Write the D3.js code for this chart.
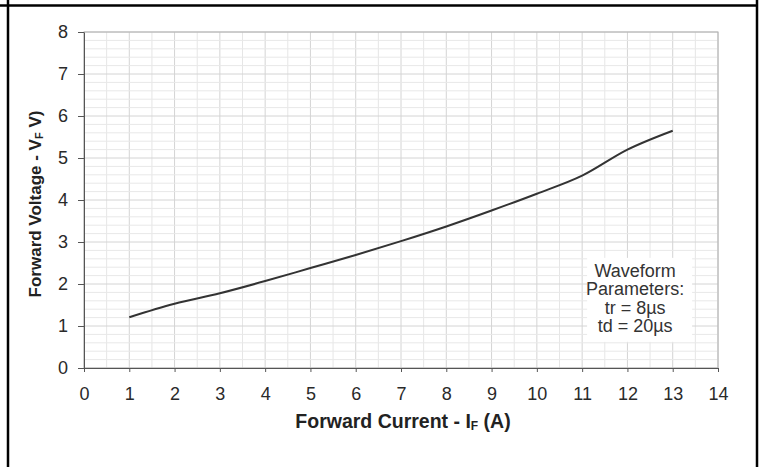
<!DOCTYPE html>
<html>
<head>
<meta charset="utf-8">
<script src="https://cdn.jsdelivr.net/npm/d3@7"></script>
<style>
    body { margin: 0; background: #fff; }
    svg { display: block; }
    .title { font-size: 17px; font-weight: bold; fill: #222; font-family: Arial, "Liberation Sans", sans-serif; }
    .note { font-size: 18px; fill: #333; font-family: Arial, "Liberation Sans", sans-serif; }
</style>
</head>
<body>
<svg id="chart"></svg>
<script>
// forward current (A) and forward voltage (V)
const current = [1, 2, 3, 4, 5, 6, 7, 8, 9, 10, 11, 12, 13];
const voltage = [1.21, 1.53, 1.78, 2.07, 2.38, 2.69, 3.02, 3.37, 3.75, 4.15, 4.58, 5.2, 5.65];

const xTicks = [0, 1, 2, 3, 4, 5, 6, 7, 8, 9, 10, 11, 12, 13, 14];
const yTicks = [0, 1, 2, 3, 4, 5, 6, 7, 8];
const noteLines = ['Waveform', 'Parameters:', 'tr = 8\u00b5s', 'td = 20\u00b5s'];

const width = 763, height = 467;
const margin = {top: 32, right: 45, bottom: 99, left: 84};
const innerW = width - margin.left - margin.right;
const innerH = height - margin.top - margin.bottom;

const svg = d3.select('#chart')
    .attr('width', width)
    .attr('height', height);

// outer frame (table cell borders)
svg.append('line').attr('x1', 0).attr('x2', 758).attr('y1', 5.5).attr('y2', 5.5)
    .attr('stroke', '#000').attr('stroke-width', 2.5);
svg.append('line').attr('x1', 8).attr('x2', 8).attr('y1', 0).attr('y2', height)
    .attr('stroke', '#000').attr('stroke-width', 2.5);
svg.append('line').attr('x1', 757).attr('x2', 757).attr('y1', 0).attr('y2', height)
    .attr('stroke', '#000').attr('stroke-width', 2.5);

const chart = svg.append('g')
    .attr('transform', `translate(${margin.left},${margin.top})`);

const xScale = d3.scaleLinear().domain([0, 14]).range([0, innerW]);
const yScale = d3.scaleLinear().domain([0, 8]).range([innerH, 0]);

// grid: 0.5 A by 0.2 V, integer lines a little darker
chart.append('g')
    .selectAll('line')
    .data(d3.range(0, 14.01, 0.5))
    .join('line')
    .attr('x1', d => xScale(d)).attr('x2', d => xScale(d))
    .attr('y1', 0).attr('y2', innerH)
    .attr('stroke', d => Number.isInteger(d) ? '#d4d4d4' : '#e6e6e6');

chart.append('g')
    .selectAll('line')
    .data(d3.range(0, 8.01, 0.2))
    .join('line')
    .attr('x1', 0).attr('x2', innerW)
    .attr('y1', d => yScale(d)).attr('y2', d => yScale(d))
    .attr('stroke', d => Math.abs(d - Math.round(d)) < 1e-6 ? '#d4d4d4' : '#e8e8e8');

// plot border
chart.append('rect')
    .attr('width', innerW).attr('height', innerH)
    .attr('fill', 'none').attr('stroke', '#b0b0b0');

// annotation with white background
const noteX = xScale(12.17);
const noteY = yScale(2.17);
chart.append('rect')
    .attr('x', noteX - 48).attr('y', noteY - 19)
    .attr('width', 105).attr('height', 84)
    .attr('fill', '#fff');

chart.append('g')
    .selectAll('text')
    .data(noteLines)
    .join('text')
    .attr('class', 'note')
    .attr('x', noteX)
    .attr('y', (d, i) => noteY + i * 18.4)
    .attr('text-anchor', 'middle')
    .text(d => d);

// axes
const xAxis = d3.axisBottom(xScale).tickValues(xTicks).tickSize(4).tickPadding(15).tickSizeOuter(0);
const yAxis = d3.axisLeft(yScale).tickValues(yTicks).tickSize(6).tickPadding(10).tickSizeOuter(0);

const xAxisGroup = chart.append('g')
    .attr('transform', `translate(0,${innerH})`)
    .call(xAxis);

const yAxisGroup = chart.append('g')
    .call(yAxis);

[xAxisGroup, yAxisGroup].forEach(g => {
    g.selectAll('text')
        .style('font-size', '18px')
        .style('font-family', 'Arial, "Liberation Sans", sans-serif')
        .attr('fill', '#2a2a2a');
    g.selectAll('path, line').attr('stroke', '#555');
});

// curve
const data = current.map((c, i) => ({c: c, v: voltage[i]}));
const line = d3.line()
    .x(d => xScale(d.c))
    .y(d => yScale(d.v))
    .curve(d3.curveMonotoneX);

chart.append('path')
    .datum(data)
    .attr('d', line)
    .attr('fill', 'none')
    .attr('stroke', '#333')
    .attr('stroke-width', 2);

// axis titles
const xt = svg.append('text')
    .attr('class', 'title')
    .style('font-size', '19.5px')
    .attr('x', 403)
    .attr('y', 428)
    .attr('text-anchor', 'middle');
xt.append('tspan').text('Forward Current - I');
xt.append('tspan').attr('font-size', '12px').attr('dy', 2).text('F');
xt.append('tspan').attr('dy', -2).text(' (A)');

const yt = svg.append('text')
    .attr('class', 'title')
    .attr('transform', `translate(41,204) rotate(-90)`)
    .attr('text-anchor', 'middle');
yt.append('tspan').text('Forward Voltage - V');
yt.append('tspan').attr('font-size', '11px').attr('dy', 2).text('F');
yt.append('tspan').attr('dy', -2).text(' V)');
</script>
</body>
</html>
